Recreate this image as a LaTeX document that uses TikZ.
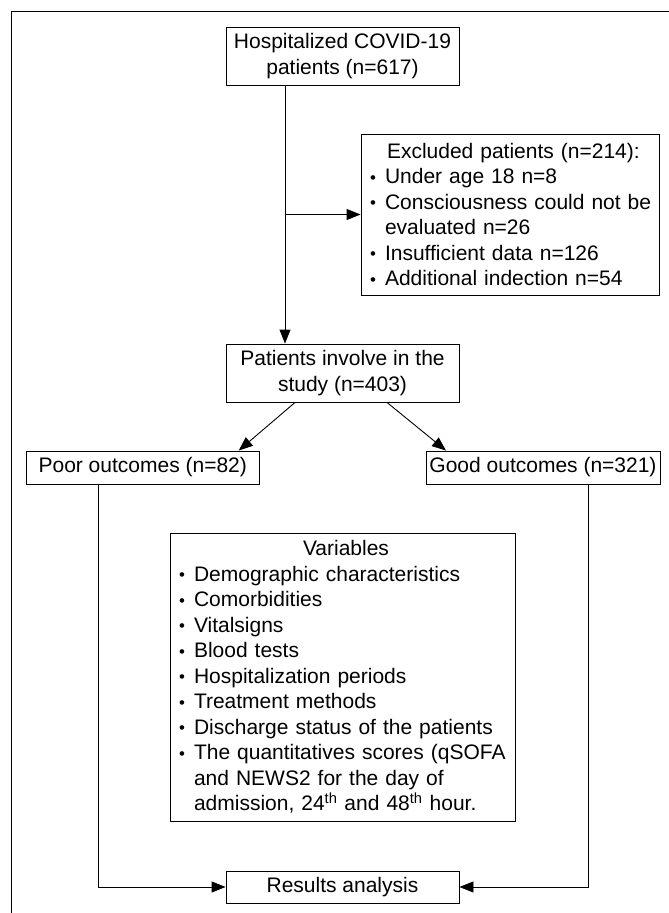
\documentclass[tikz,border=0pt]{standalone}
\usepackage{fontspec}
\setmainfont{Liberation Sans}
\usetikzlibrary{arrows.meta}
\newcommand\bl{\makebox[15pt][l]{\raisebox{0.5pt}{\scalebox{0.8}{•}}}}
\begin{document}
\begin{tikzpicture}[x=1pt,y=-1pt,
  box/.style={draw,line width=0.9pt,inner sep=0pt,font=\fontsize{21pt}{25.5pt}\selectfont},
  arr/.style={line width=0.9pt,-{Triangle[length=14pt,width=11pt]}}]
\useasboundingbox (0,0) rectangle (669,913);
\draw[line width=0.9pt] (11,913) -- (11,11) -- (669,11);
\node[box,minimum width=233pt,minimum height=58pt,align=center] (h1) at (342.5,56)
  {Hospitalized COVID-19\\patients (n=617)};
\node[box,text width=280pt,minimum height=161pt,inner xsep=9pt,align=left] (ex) at (510,214.5)
  {\mbox{\hspace*{17pt}Excluded patients (n=214):}\\
   \mbox{\bl Under age 18 n=8}\\
   \mbox{\bl Consciousness could not be}\\
   \mbox{\hspace*{15pt}evaluated n=26}\\
   \mbox{\bl Insufficient data n=126}\\
   \mbox{\bl Additional indection n=54}};
\node[box,minimum width=233pt,minimum height=58pt,align=center] (p2) at (342.5,373)
  {Patients involve in the\\study (n=403)};
\node[box,minimum width=232.5pt,minimum height=33pt] (poor) at (142.75,467.5) {Poor outcomes (n=82)};
\node[box,minimum width=234pt,minimum height=33pt] (good) at (543,467.5) {Good outcomes (n=321)};
\node[box,text width=327pt,minimum height=288pt,inner xsep=9pt,align=left] (var) at (342.5,677)
  {\mbox{\hspace*{124pt}Variables}\\
   \mbox{\bl Demographic characteristics}\\
   \mbox{\bl Comorbidities}\\
   \mbox{\bl Vitalsigns}\\
   \mbox{\bl Blood tests}\\
   \mbox{\bl Hospitalization periods}\\
   \mbox{\bl Treatment methods}\\
   \mbox{\bl Discharge status of the patients}\\
   \mbox{\bl The quantitatives scores (qSOFA}\\
   \mbox{\hspace*{15pt}and NEWS2 for the day of}\\
   \mbox{\hspace*{15pt}admission, 24\textsuperscript{th} and 48\textsuperscript{th} hour.}};
\node[box,minimum width=233pt,minimum height=32pt] (res) at (342.5,887) {Results analysis};
\draw[arr] ([xshift=-57.5pt]h1.south) -- ([xshift=-57.5pt]p2.north);
\draw[arr] ([xshift=-57.5pt]h1.south |- ex.west) -- (ex.west);
\draw[arr] ([xshift=-47.5pt]p2.south) -- ([xshift=96pt]poor.north);
\draw[arr] ([xshift=44.5pt]p2.south) -- ([xshift=-97pt]good.north);
\draw[arr] ([xshift=-44.25pt]poor.south) |- (res.west);
\draw[arr] ([xshift=45pt]good.south) |- (res.east);
\end{tikzpicture}
\end{document}
